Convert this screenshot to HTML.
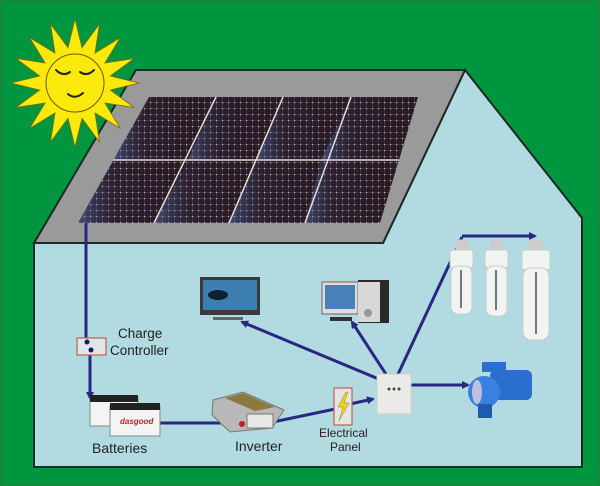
<!DOCTYPE html>
<html><head><meta charset="utf-8"><style>
html,body{margin:0;padding:0;background:#00953f}
svg{display:block}
text{font-family:"Liberation Sans",Arial,sans-serif;fill:#222}
</style></head><body>
<svg width="600" height="486" viewBox="0 0 600 486" xmlns="http://www.w3.org/2000/svg">
<defs>
<pattern id="cells" width="6" height="6" patternUnits="userSpaceOnUse">
<rect width="6" height="6" fill="#2a1a22"/>
<rect x="0" y="0" width="6" height="0.6" fill="#4e4452"/>
<rect x="0" y="0" width="0.6" height="6" fill="#4e4452"/>
<rect x="0" y="0" width="1.2" height="1.2" fill="#bcb8c4"/>
</pattern>
<linearGradient id="shine" x1="0" y1="0" x2="1" y2="0">
<stop offset="0" stop-color="#5b7bc0" stop-opacity="0.5"/>
<stop offset="0.3" stop-color="#3a4a80" stop-opacity="0.12"/>
<stop offset="1" stop-color="#000" stop-opacity="0"/>
</linearGradient>
<marker id="ar" markerWidth="8" markerHeight="8" refX="6" refY="4" orient="auto" markerUnits="userSpaceOnUse">
<path d="M0,0 L8,4 L0,8 z" fill="#2a2684"/>
</marker>
</defs>
<rect width="600" height="486" fill="#00953f"/>
<rect x="0" y="0" width="600" height="486" fill="none" stroke="#128a3a" stroke-width="6"/>
<polygon points="465,70 582,218 582,467 34,467 34,243 383,243" fill="#b2dbe1" stroke="#1b2a22" stroke-width="2"/>
<polygon points="136,70 465,70 383,243 34,243" fill="#9a9a9a" stroke="#1b2a22" stroke-width="2"/>
<polygon points="149,97 418,97 380,223 78,223" fill="url(#cells)"/>
<g fill="url(#shine)">
<polygon points="149,97 216,97 198,160 113,160"/>
<polygon points="216,97 283,97 273,160 188,160"/>
<polygon points="283,97 351,97 336,160 256,160"/>
<polygon points="351,97 418,97 399,160 321,160"/>
<polygon points="113,160 198,160 153,223 78,223"/>
<polygon points="188,160 273,160 229,223 154,223"/>
<polygon points="256,160 336,160 304,223 229,223"/>
<polygon points="321,160 399,160 380,223 305,223"/>
</g>
<g stroke="#e8dcd8" stroke-width="1.5">
<line x1="113" y1="160" x2="399" y2="160"/>
<line x1="216" y1="97" x2="154" y2="223"/>
<line x1="283" y1="97" x2="229" y2="223"/>
<line x1="351" y1="97" x2="305" y2="223"/>
</g>
<polygon points="75,19 82,47.7 99.5,23.9 95,53.1 120.3,37.7 104.9,63 134.1,58.5 110.3,76 139,83 110.3,90 134.1,107.5 104.9,103 120.3,128.3 95,112.9 99.5,142.1 82,118.3 75,147 68,118.3 50.5,142.1 55,112.9 29.7,128.3 45.1,103 15.9,107.5 39.7,90 11,83 39.7,76 15.9,58.5 45.1,63 29.7,37.7 55,53.1 50.5,23.9 68,47.7" fill="#fbe90c" stroke="#7a6a10" stroke-width="0.8"/>
<circle cx="75" cy="83" r="29" fill="#fbe90c" stroke="#6a5a10" stroke-width="1"/>
<g fill="none" stroke="#222" stroke-width="2" stroke-linecap="round">
<path d="M56,70 Q63,77 70,72"/><path d="M80,72 Q87,77 94,70"/><path d="M68,94 Q75,100 83,93"/>
</g>
<g stroke="#2a2684" stroke-width="3" fill="none">
<line x1="86" y1="223" x2="86" y2="345"/>
<line x1="90" y1="350" x2="90" y2="398" marker-end="url(#ar)"/>
<line x1="156" y1="423" x2="230" y2="423" marker-end="url(#ar)"/>
<polyline points="268,423 340,408"/>
<line x1="350" y1="404" x2="373" y2="399" marker-end="url(#ar)"/>
<line x1="393" y1="385" x2="242" y2="322" marker-end="url(#ar)"/>
<line x1="393" y1="385" x2="352" y2="322" marker-end="url(#ar)"/>
<line x1="393" y1="385" x2="462" y2="237"/>
<line x1="462" y1="236" x2="535" y2="236" marker-end="url(#ar)"/>
<line x1="393" y1="385" x2="468" y2="385" marker-end="url(#ar)"/>
</g>
<rect x="77" y="338" width="29" height="17" fill="#dfe6e8" stroke="#c0604a" stroke-width="1.2"/>
<circle cx="87" cy="342" r="2.5" fill="#1a1a5a"/><circle cx="91" cy="350" r="2.5" fill="#1a1a5a"/>
<text x="118" y="338" font-size="13.5">Charge</text>
<text x="110" y="355" font-size="13.5">Controller</text>
<g>
<rect x="90" y="398" width="48" height="28" fill="#f4f4f4" stroke="#888"/>
<rect x="90" y="395" width="48" height="7" fill="#222"/>
<rect x="110" y="406" width="50" height="30" fill="#f4f4f4" stroke="#888"/>
<rect x="110" y="403" width="50" height="7" fill="#222"/>
<text x="120" y="424" font-size="8" style="fill:#c02020;font-style:italic;font-weight:bold">dasgood</text>
</g>
<text x="92" y="453" font-size="14">Batteries</text>
<polygon points="213,400 243,392 284,410 272,428 230,432 212,415" fill="#b8b8b8" stroke="#777"/>
<polygon points="225,398 243,393 275,407 255,411" fill="#8a7a40"/>
<rect x="247" y="414" width="26" height="14" fill="#e8e8e8" stroke="#777"/>
<circle cx="242" cy="424" r="3" fill="#c02020"/>
<text x="235" y="451" font-size="14">Inverter</text>
<rect x="334" y="388" width="18" height="37" fill="#e0e6e6" stroke="#c0604a" stroke-width="1.2"/>
<polygon points="346,392 338,407 343,407 339,421 349,403 344,403 348,392" fill="#f0d020" stroke="#a08010" stroke-width="0.5"/>
<text x="319" y="437" font-size="12">Electrical</text>
<text x="330" y="451" font-size="12">Panel</text>
<rect x="377" y="374" width="34" height="40" fill="#eceae6" stroke="#cfcfcf"/>
<circle cx="389" cy="389" r="1.5" fill="#444"/><circle cx="394" cy="389" r="1.5" fill="#444"/><circle cx="399" cy="389" r="1.5" fill="#444"/>
<g>
<rect x="490" y="370" width="42" height="30" rx="6" fill="#2a6fd0"/>
<circle cx="484" cy="392" r="16" fill="#3a80e0"/>
<ellipse cx="477" cy="392" rx="5" ry="12" fill="#c0c0e0"/>
<rect x="478" y="404" width="14" height="14" fill="#1f5ab0"/>
<rect x="482" y="362" width="24" height="10" fill="#2a6fd0"/>
</g>
<rect x="200" y="277" width="60" height="38" fill="#3a3a3a"/>
<rect x="203" y="280" width="54" height="30" fill="#3c7eb0"/>
<ellipse cx="218" cy="295" rx="10" ry="5" fill="#102030"/>
<rect x="213" y="317" width="30" height="3" fill="#666"/>
<rect x="322" y="282" width="36" height="32" fill="#ddd" stroke="#666"/>
<rect x="325" y="285" width="30" height="24" fill="#4a80b8"/>
<rect x="330" y="317" width="22" height="4" fill="#333"/>
<rect x="358" y="280" width="31" height="43" fill="#2a2a2a"/>
<rect x="358" y="282" width="22" height="40" fill="#d8d8d8"/>
<circle cx="368" cy="313" r="4" fill="#999"/>
<g fill="#f2f4f2" stroke="#c8cccc" stroke-width="1">
<rect x="456" y="240" width="12" height="10" fill="#ccc"/>
<rect x="450" y="250" width="23" height="18" rx="3"/>
<rect x="451" y="266" width="21" height="48" rx="7"/>
<rect x="491" y="240" width="12" height="10" fill="#ccc"/>
<rect x="485" y="250" width="23" height="18" rx="3"/>
<rect x="486" y="266" width="21" height="50" rx="7"/>
<rect x="529" y="240" width="13" height="10" fill="#ccc"/>
<rect x="522" y="250" width="28" height="20" rx="3"/>
<rect x="523" y="268" width="26" height="72" rx="8"/>
</g>
<g stroke="#223" stroke-width="1.2">
<line x1="461" y1="270" x2="461" y2="308"/>
<line x1="496" y1="270" x2="496" y2="310"/>
<line x1="536" y1="272" x2="536" y2="334"/>
</g>
</svg>
</body></html>
